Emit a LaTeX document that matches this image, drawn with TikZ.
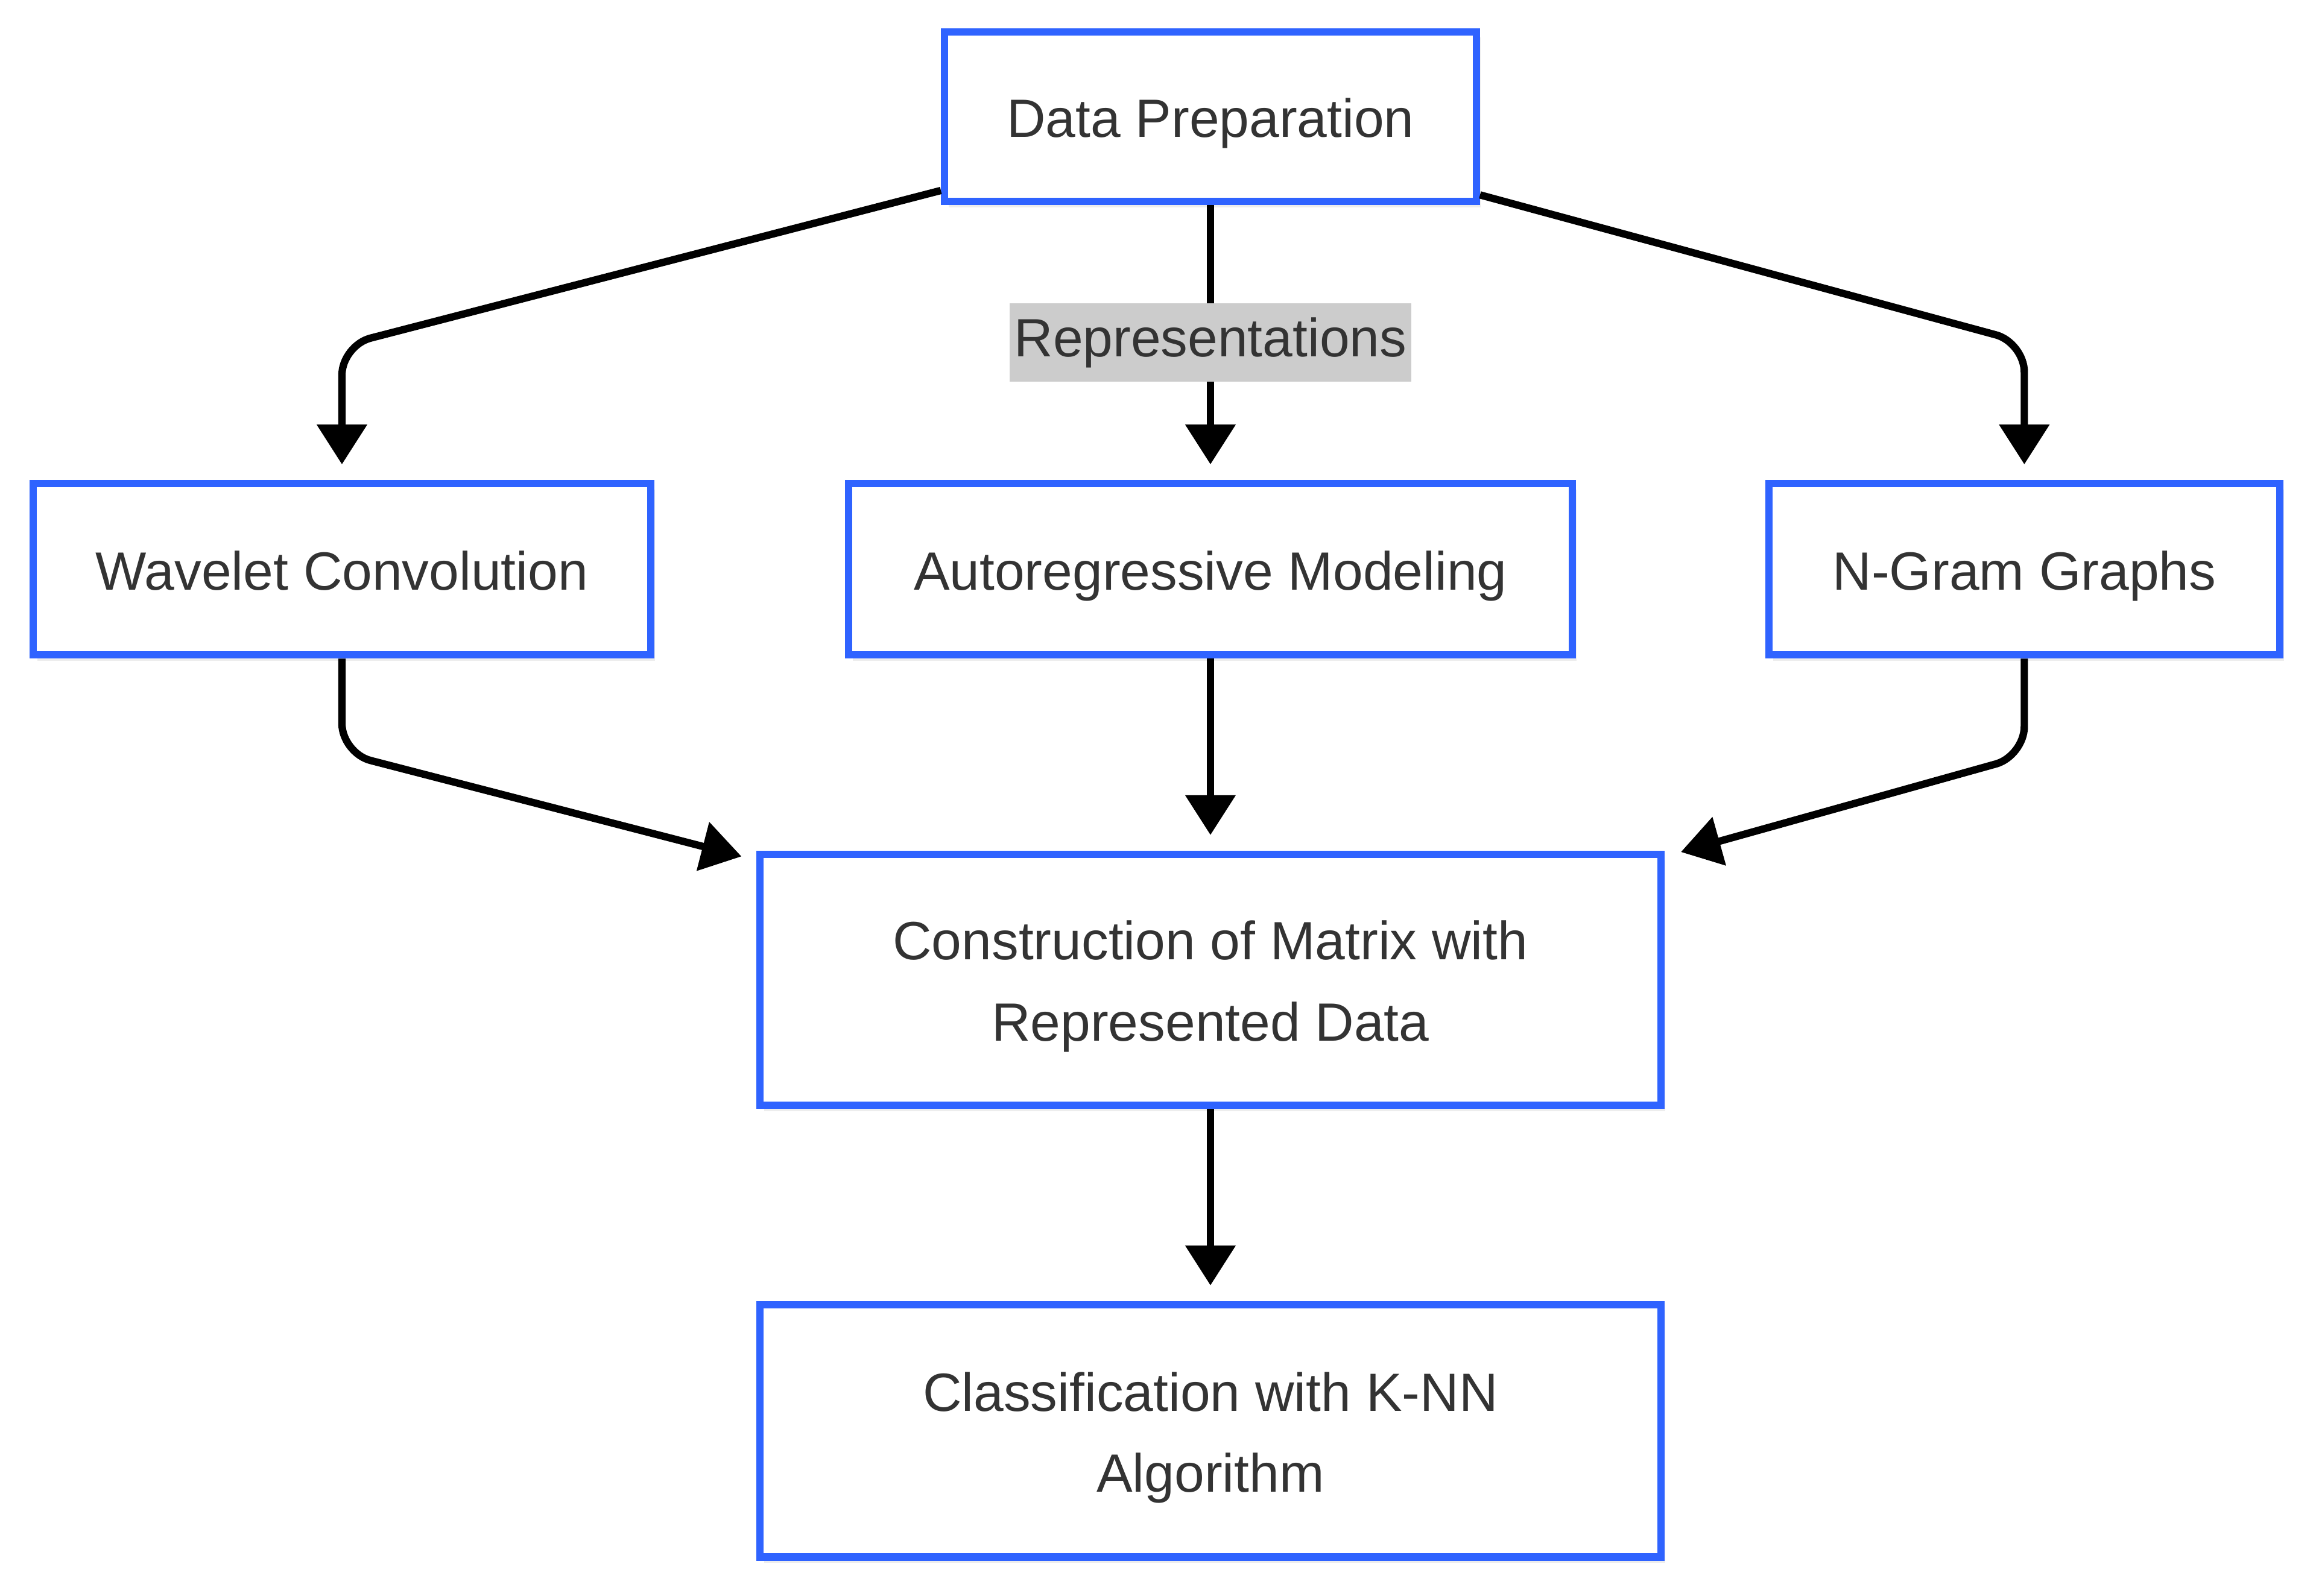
\documentclass[tikz,border=0pt]{standalone}
\usepackage{fontspec}
\setmainfont{Liberation Sans}
\usetikzlibrary{arrows.meta,calc,shadows}

\definecolor{boxblue}{HTML}{2F63FF}
\definecolor{txtgray}{HTML}{333333}
\definecolor{lblgray}{HTML}{CCCCCC}

\newcommand{\boxstrut}{\rule[-6.5pt]{0pt}{27pt}}

\begin{document}
\begin{tikzpicture}[x=0.5pt,y=-0.5pt,
    box/.style={draw=boxblue, line width=2.5pt, fill=white, text=txtgray,
        align=center, inner sep=0pt,
        font=\fontsize{18.25}{27.5}\selectfont,
        execute at begin node=\boxstrut, execute at end node=\boxstrut,
        drop shadow={shadow xshift=1.5pt, shadow yshift=-2pt, opacity=0.07, fill=black}},
    link/.style={line width=2.5pt, rounded corners=10pt,
        -{Triangle[width=16.5pt,length=13.5pt]}},
    lbl/.style={sharp corners, fill=lblgray, text=txtgray, inner xsep=1.5pt, inner ysep=0pt,
        minimum height=26.5pt, font=\fontsize{18.25}{22}\selectfont}
]

    \useasboundingbox (0,0) rectangle (1568,1080.5);

    %% Boxes

    % Top
    \node[box, minimum width=180pt, minimum height=57.5pt] (dp) at (819.5,79) {Data Preparation};

    % Three representations
    \node[box, minimum width=209pt, minimum height=58pt] (wc) at (231.5,385.5) {Wavelet Convolution};
    \node[box, minimum width=245pt, minimum height=58pt] (ar) at (819.5,385.5) {Autoregressive Modeling};
    \node[box, minimum width=173pt, minimum height=58pt] (ng) at (1370.5,385.5) {N-Gram Graphs};

    % Matrix and classifier
    \node[box, minimum width=305pt, minimum height=85pt] (ct) at (819.5,663.5) {\boxstrut Construction of Matrix with\\Represented Data};
    \node[box, minimum width=305pt, minimum height=85.5pt] (cl) at (819.5,969) {\boxstrut Classification with K-NN\\Algorithm};

    %% Connectors

    \draw[link] ($(dp.south west)+(0,-10)$) -- (wc.north |- 0,234) -- ([yshift=5.25pt]wc.north);
    \draw[link] ($(dp.south east)+(0,-7)$) -- (ng.north |- 0,232) -- ([yshift=5.25pt]ng.north);
    \draw[link, shorten >=5.25pt] (dp) -- node[lbl, pos=0.5] {Representations} (ar);

    \draw[link] (wc.south) -- (wc.south |- 0,510) -- ($(ct.north west)+(-10,4)$);
    \draw[link] (ng.south) -- (ng.south |- 0,512) -- ($(ct.north east)+(11,1)$);
    \draw[link, shorten >=5.25pt] (ar) -- (ct);

    \draw[link, shorten >=5.25pt] (ct) -- (cl);

\end{tikzpicture}
\end{document}
